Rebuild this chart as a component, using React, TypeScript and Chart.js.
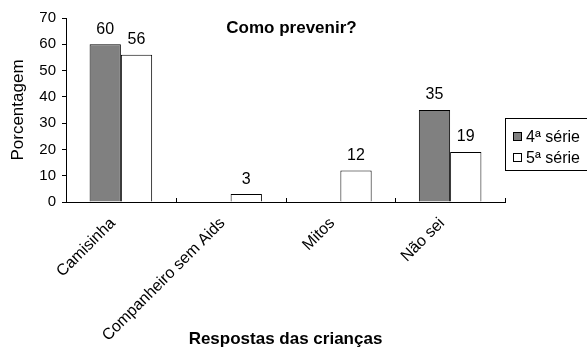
import React, { useEffect, useRef } from "react";
import { Chart, registerables } from "chart.js";

Chart.register(...registerables);

const categories = ["Camisinha", "Companheiro sem Aids", "Mitos", "Não sei"];
const serie4 = [60, 0, 0, 35];
const serie5 = [56, 3, 12, 19];
const seriesNames = ["4ª série", "5ª série"];
const chartTitle = "Como prevenir?";
const yTitle = "Porcentagem";
const xTitle = "Respostas das crianças";

const FONT = "'Liberation Sans', Arial, sans-serif";

export default function App() {
  const ref = useRef<HTMLCanvasElement | null>(null);

  useEffect(() => {
    document.body.style.margin = "0";
    const canvas = ref.current;
    if (!canvas) return;

    const labelsPlugin = {
      id: "valueLabels",
      afterDatasetsDraw(chart: any) {
        const ctx = chart.ctx;
        ctx.save();
        ctx.font = `16px ${FONT}`;
        ctx.fillStyle = "#000";
        ctx.textAlign = "center";
        ctx.textBaseline = "middle";
        chart.data.datasets.forEach((ds: any, di: number) => {
          const meta = chart.getDatasetMeta(di);
          meta.data.forEach((el: any, i: number) => {
            const v = ds.data[i];
            if (!v) return;
            ctx.fillText(String(v), el.x, el.y - 15);
          });
        });
        ctx.restore();
      },
    };

    const decoPlugin = {
      id: "deco",
      afterDraw(chart: any) {
        const ctx = chart.ctx;
        const area = chart.chartArea;
        const xs = chart.scales.x;
        ctx.save();
        ctx.strokeStyle = "#000";
        ctx.lineWidth = 1;
        const n = categories.length;
        for (let i = 0; i < n; i++) {
          const c = xs.getPixelForValue(i);
          const next = i < n - 1 ? xs.getPixelForValue(i + 1) : c + (c - xs.getPixelForValue(i - 1));
          const b = Math.round((c + next) / 2) + 0.5;
          ctx.beginPath();
          ctx.moveTo(b, area.bottom);
          ctx.lineTo(b, area.bottom - 4);
          ctx.stroke();
        }
        // title
        ctx.font = `bold 17px ${FONT}`;
        ctx.fillStyle = "#000";
        ctx.textAlign = "center";
        ctx.textBaseline = "middle";
        ctx.fillText(chartTitle, (area.left + area.right) / 2 + 6, 28);
        // legend
        const lx = 505.5;
        const ly = 118.5;
        ctx.strokeStyle = "#000";
        ctx.strokeRect(lx, ly, 100, 52);
        ctx.font = `16px ${FONT}`;
        ctx.textAlign = "left";
        const rows = [
          { fill: "#808080", y: 137 },
          { fill: "#ffffff", y: 158 },
        ];
        rows.forEach((r, i) => {
          ctx.fillStyle = r.fill;
          ctx.fillRect(513.5, r.y - 4.5, 8, 8);
          ctx.strokeRect(513.5, r.y - 4.5, 8, 8);
          ctx.fillStyle = "#000";
          ctx.fillText(seriesNames[i], 526, r.y + 1);
        });
        ctx.restore();
      },
    };

    const chart = new Chart(canvas, {
      type: "bar",
      data: {
        labels: categories,
        datasets: [
          {
            label: seriesNames[0],
            data: serie4,
            backgroundColor: "#808080",
            borderColor: "#000",
            borderWidth: 1,
            categoryPercentage: 0.57,
            barPercentage: 1,
          },
          {
            label: seriesNames[1],
            data: serie5,
            backgroundColor: "#ffffff",
            borderColor: "#000",
            borderWidth: 1,
            categoryPercentage: 0.57,
            barPercentage: 1,
          },
        ],
      },
      options: {
        animation: false,
        responsive: false,
        maintainAspectRatio: false,
        layout: { padding: { left: 0, right: 82, top: 18, bottom: 0 } },
        plugins: {
          legend: { display: false },
          title: { display: false },
          tooltip: { enabled: false },
        },
        scales: {
          x: {
            grid: { display: false },
            border: { display: true, color: "#000", width: 1 },
            ticks: {
              color: "#000",
              font: { family: FONT, size: 16 },
              minRotation: 45,
              maxRotation: 45,
              padding: 4,
              labelOffset: -8,
            },
            title: {
              display: true,
              text: xTitle,
              color: "#000",
              font: { family: FONT, size: 17, weight: "bold" },
              padding: { top: 0, bottom: 2 },
            },
            afterFit(scale: any) {
              scale.height = 150;
            },
          },
          y: {
            min: 0,
            max: 70,
            ticks: {
              stepSize: 10,
              color: "#000",
              font: { family: FONT, size: 15 },
              padding: 6,
            },
            grid: {
              display: true,
              drawOnChartArea: false,
              drawTicks: true,
              tickLength: 4,
              color: "#000",
            },
            border: { display: true, color: "#000", width: 1 },
            title: {
              display: true,
              text: yTitle,
              color: "#000",
              font: { family: FONT, size: 17 },
              padding: { top: 8, bottom: 0 },
            },
            afterFit(scale: any) {
              scale.width = 66;
            },
          },
        },
      },
      plugins: [labelsPlugin, decoPlugin],
    } as any);

    return () => chart.destroy();
  }, []);

  return (
    <div style={{ width: 587, height: 352, background: "#fff" }}>
      <canvas ref={ref} width={587} height={352} style={{ display: "block" }} />
    </div>
  );
}
